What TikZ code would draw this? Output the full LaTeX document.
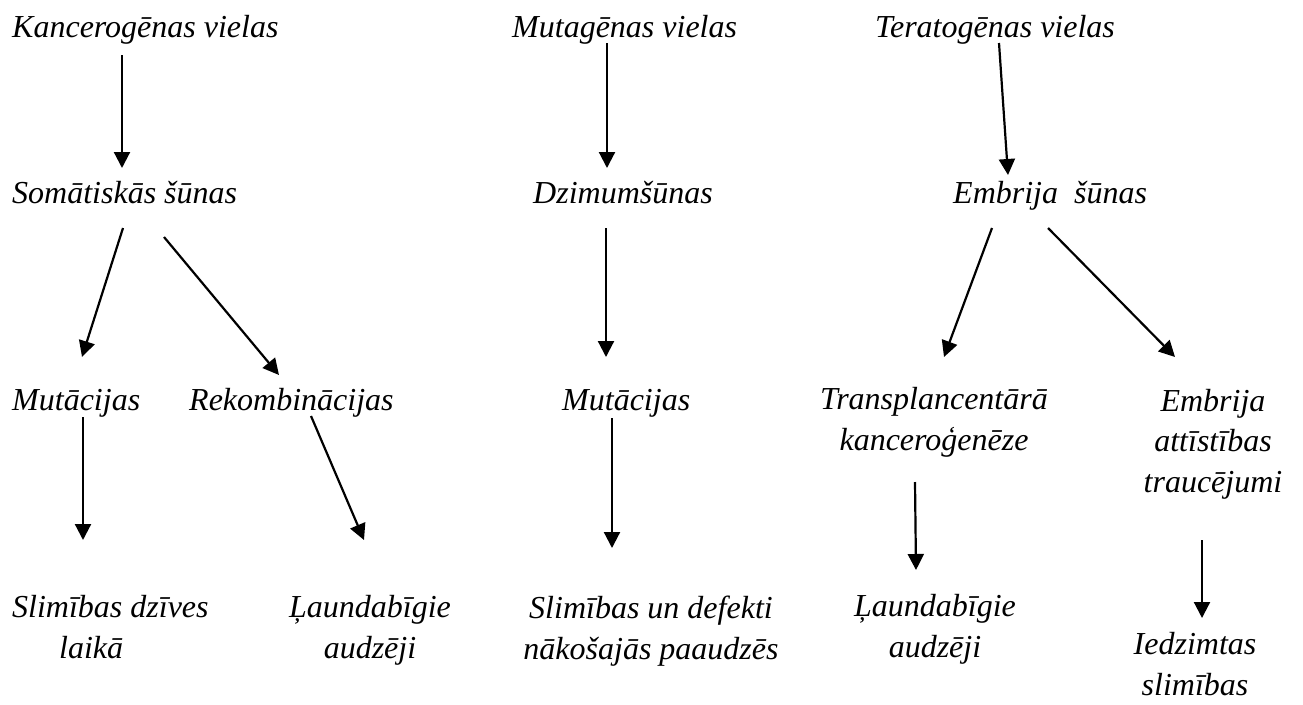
\documentclass[tikz,border=0pt]{standalone}
\usepackage{fontspec}
\setmainfont{Liberation Serif}
\usetikzlibrary{arrows.meta,calc}
\tikzset{
  lbl/.style={inner sep=0pt, font=\fontsize{32}{40.5}\selectfont\itshape},
  lblc/.style={lbl, align=center, anchor=base},
  lbll/.style={lbl, anchor=base west},
  arr/.style={line width=2.2pt, -{Triangle[length=16pt,width=16pt]}}
}
\begin{document}
\begin{tikzpicture}[x=1pt,y=-1pt]
\useasboundingbox (0,0) rectangle (1303,704);
% row 1
\node[lbll] (k1) at (12,37) {Kancerogēnas vielas};
\node[lbll] (m1) at (512,37) {Mutagēnas vielas};
\node[lbll] (t1) at (875,37) {Teratogēnas vielas};
% row 2
\node[lbll] (s2) at (12,203) {Somātiskās šūnas};
\node[lbll] (d2) at (533,203) {Dzimumšūnas};
\node[lbll] (e2) at (953,203) {Embrija\ \ šūnas};
% row 3
\node[lbll] (mu3) at (12,410) {Mutācijas};
\node[lbll] (r3) at (189,410) {Rekombinācijas};
\node[lbll] (mu3b) at (562,410) {Mutācijas};
\node[lblc] (tr3) at (934,450) {Transplancentārā\\kanceroģenēze};
\node[lblc] (em3) at (1213,492) {Embrija\\attīstības\\traucējumi};
% row 4
\node[lbll, align=left] (sl4) at (12,658) {Slimības dzīves\\\hspace*{47pt}laikā};
\node[lblc] (la4) at (370,658) {Ļaundabīgie\\audzēji};
\node[lblc] (sd4) at (651,659) {Slimības un defekti\\nākošajās paaudzēs};
\node[lblc] (la4b) at (935,657) {Ļaundabīgie\\audzēji};
\node[lblc] (ie4) at (1195,695) {Iedzimtas\\slimības};
% arrows
\draw[arr] ($(k1.base west)+(110,18)$) -- ($(s2.base west)+(110,-35)$);
\draw[arr] ($(m1.base west)+(95,6)$) -- ($(d2.base west)+(74,-35)$);
\draw[arr] ($(t1.base west)+(124,6)$) -- ($(e2.base west)+(55,-28)$);
\draw[arr] ($(s2.base west)+(111,25)$) -- ($(mu3.base west)+(70,-53)$);
\draw[arr] ($(s2.base west)+(152,34)$) -- ($(r3.base west)+(90,-35)$);
\draw[arr] ($(d2.base west)+(73,25)$) -- ($(mu3b.base west)+(44,-53)$);
\draw[arr] ($(e2.base west)+(39,25)$) -- ($(tr3.base)+(10,-93)$);
\draw[arr] ($(e2.base west)+(95,25)$) -- ($(em3.base)+(-38,-135)$);
\draw[arr] ($(mu3.base west)+(71,7)$) -- ($(sl4.base west)+(71,-118)$);
\draw[arr] ($(r3.base west)+(122,6)$) -- ($(la4.base)+(-6,-118)$);
\draw[arr] ($(mu3b.base west)+(50,8)$) -- ($(sd4.base)+(-39,-111)$);
\draw[arr] ($(tr3.base)+(-19,32)$) -- ($(la4b.base)+(-19,-87)$);
\draw[arr] ($(em3.base)+(-11,48)$) -- ($(ie4.base)+(7,-77)$);
\end{tikzpicture}
\end{document}
